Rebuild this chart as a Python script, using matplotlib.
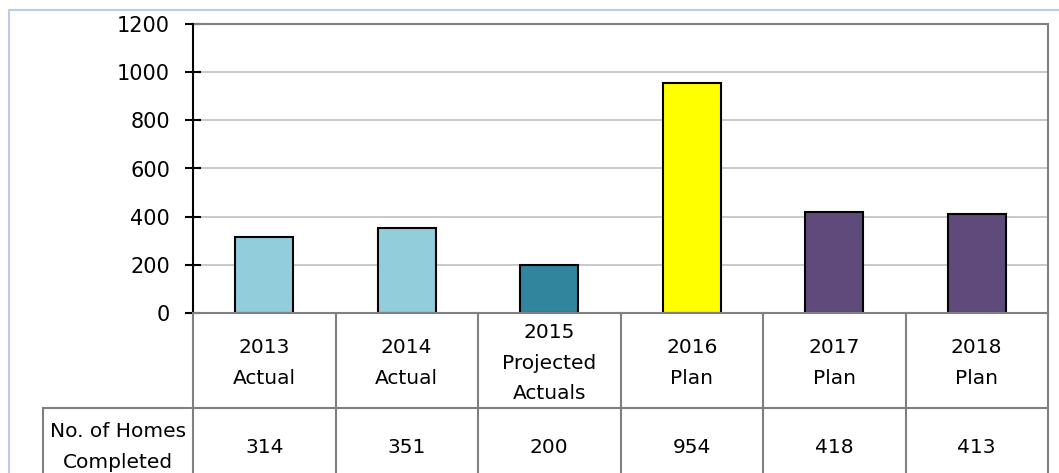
import matplotlib.pyplot as plt
from matplotlib.patches import Rectangle

# Chart data
categories = ["2013\nActual", "2014\nActual", "2015\nProjected\nActuals",
              "2016\nPlan", "2017\nPlan", "2018\nPlan"]
homes_completed = [314, 351, 200, 954, 418, 413]
row_label = "No. of Homes\nCompleted"
bar_colors = ["#92CDDC", "#92CDDC", "#31859C", "#FFFF00", "#604A7B", "#604A7B"]
y_ticks = [0, 200, 400, 600, 800, 1000, 1200]

W, H = 1059, 473
fig = plt.figure(figsize=(W / 100, H / 100), dpi=100)
plt.rcParams["font.family"] = "DejaVu Sans"

# outer chart border (light blue)
fig.patches.append(Rectangle((9 / W, -0.1), 1.2, 1 - 10 / H + 0.1,
                             transform=fig.transFigure, fill=False,
                             edgecolor="#B9CDE5", linewidth=1.5))

# plot area in pixels
left, right, top, zero = 193, 1048, 24, 313
ax = fig.add_axes([left / W, 1 - zero / H, (right - left) / W, (zero - top) / H])

x = range(len(categories))
ax.bar(x, homes_completed, width=0.41, color=bar_colors,
       edgecolor="black", linewidth=1.5, zorder=3)

ax.set_xlim(-0.5, len(categories) - 0.5)
ax.set_ylim(0, 1200)
ax.set_yticks(y_ticks)
ax.tick_params(axis="y", direction="inout", length=11, width=1.5, labelsize=15, pad=11)
ax.set_xticks([])
ax.yaxis.grid(True, color="#C0C0C0", linewidth=1.2, zorder=0)
ax.spines["left"].set_linewidth(1.5)
ax.spines["left"].set_zorder(4)
ax.spines["top"].set_color("#808080")
ax.spines["top"].set_linewidth(1.5)
ax.spines["right"].set_color("#808080")
ax.spines["right"].set_linewidth(1.5)
ax.spines["bottom"].set_color("#808080")
ax.spines["bottom"].set_linewidth(1.5)
ax.spines["bottom"].set_zorder(4)

# data table under the plot
label_w = (left - 43) / ((right - left) / len(categories))
tab = fig.add_axes([43 / W, 0, (right - 43) / W, (H - zero) / H])
tab.set_xlim(-0.5 - label_w, len(categories) - 0.5)
tab.set_ylim(H - zero, 0)
tab.axis("off")

row1 = 95
line_kw = dict(color="#808080", linewidth=1.5, clip_on=False)
tab.plot([-0.5 - label_w, len(categories) - 0.5], [row1, row1], **line_kw)
tab.plot([-0.5 - label_w, -0.5 - label_w], [row1, H - zero + 5], **line_kw)
for i in range(len(categories) + 1):
    tab.plot([i - 0.5, i - 0.5], [0, H - zero + 5], **line_kw)

for i, (cat, val) in enumerate(zip(categories, homes_completed)):
    tab.text(i, 50, cat, ha="center", va="center", fontsize=14.5, linespacing=1.75)
    tab.text(i, 134, str(val), ha="center", va="center", fontsize=14.5)
tab.text(-0.5 - label_w / 2, 134, row_label, ha="center", va="center",
         fontsize=14.5, linespacing=1.75)

fig.savefig("out.png", dpi=100)
